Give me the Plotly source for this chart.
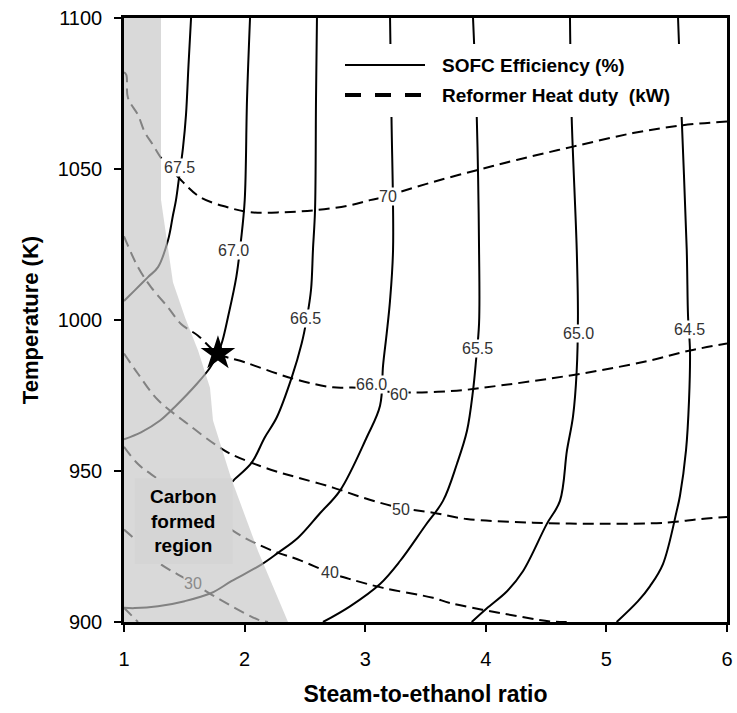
import plotly.graph_objects as go

# ---------------- data ----------------
x_ticks = [1, 2, 3, 4, 5, 6]
y_ticks = [900, 950, 1000, 1050, 1100]

# SOFC efficiency contour lines (%)
eff_675_x = [1.556, 1.535, 1.514, 1.489, 1.456, 1.431, 1.406, 1.365, 1.282, 1.199, 1.089, 1.000]
eff_675_y = [1100, 1084.5, 1067.9, 1057.0, 1047.0, 1039.7, 1034.7, 1026.4, 1017.5, 1014.2, 1009.8, 1006.3]

eff_670_x = [2.045, 2.020, 2.001, 1.970, 1.931, 1.862, 1.817, 1.779, 1.713, 1.605, 1.423, 1.299, 1.141, 1.000]
eff_670_y = [1100, 1072.9, 1039.7, 1026.4, 1014.2, 1000.9, 993.2, 988.9, 984.2, 978.9, 971.3, 966.7, 962.8, 960.5]

eff_665_x = [2.600, 2.592, 2.584, 2.567, 2.551, 2.517, 2.473, 2.391, 2.266, 2.167, 2.059, 1.918, 1.900]
eff_665_y = [1100, 1072.9, 1036.4, 1023.4, 1010.1, 1000.8, 992.2, 981.0, 967.7, 961.1, 952.8, 947.3, 946.5]

eff_660_x = [3.206, 3.218, 3.231, 3.206, 3.178, 3.148, 3.123, 3.012, 2.791, 2.625, 2.443, 2.277, 2.138,
             1.890, 1.724, 1.503, 1.282, 1.089, 1.000]
eff_660_y = [1100, 1067.2, 1023.4, 1006.5, 995.5, 984.9, 971.6, 961.1, 943.5, 936.0, 927.9, 922.9, 919.0,
             913.5, 909.6, 906.9, 905.2, 904.6, 904.7]

eff_655_x = [3.894, 3.925, 3.944, 3.944, 3.919, 3.894, 3.844, 3.761, 3.645, 3.496, 3.289, 3.123, 2.874, 2.650]
eff_655_y = [1100, 1067.2, 1023.4, 998.8, 986.6, 976.6, 963.3, 952.4, 940.1, 931.8, 920.2, 912.6, 905.2, 900]

eff_650_x = [4.698, 4.712, 4.754, 4.764, 4.753, 4.723, 4.673, 4.615, 4.505, 4.308, 4.176, 4.007, 3.883]
eff_650_y = [1100, 1067.2, 1023.4, 1001.2, 982.6, 968.0, 956.8, 940.1, 932.4, 916.8, 910.2, 904.5, 900]

eff_645_x = [5.594, 5.624, 5.666, 5.677, 5.693, 5.685, 5.660, 5.610, 5.583, 5.469, 5.362, 5.262, 5.085]
eff_645_y = [1100, 1067.2, 1023.4, 1001.2, 989.9, 973.3, 956.8, 941.8, 936.8, 919.2, 911.9, 906.9, 900]

# Reformer heat duty contour lines (kW)
duty_70_x = [1.000, 1.019, 1.033, 1.116, 1.171, 1.240, 1.309, 1.381, 1.456, 1.630, 1.852, 2.045, 2.318,
             2.598, 2.874, 3.040, 3.189, 3.289, 3.562, 3.925, 4.256, 4.723, 5.221, 5.635, 6.000]
duty_70_y = [1082.0, 1081.2, 1073.5, 1067.9, 1062.3, 1058.0, 1053.6, 1050.3, 1047.0, 1040.7, 1037.4, 1035.7,
             1035.7, 1036.4, 1038.0, 1039.7, 1041.0, 1042.4, 1045.7, 1049.6, 1053.0, 1057.4, 1061.9, 1064.5, 1065.7]

duty_60_x = [1.000, 1.116, 1.224, 1.365, 1.473, 1.614, 1.779, 2.001, 2.401, 2.733, 2.930, 3.081, 3.371,
             3.759, 4.118, 4.532, 4.947, 5.362, 5.693, 6.000]
duty_60_y = [1027.7, 1017.5, 1010.9, 1004.2, 998.7, 994.8, 988.9, 986.0, 980.6, 977.7, 977.6, 976.6, 976.0,
             976.6, 978.3, 980.6, 983.3, 986.6, 989.9, 992.2]

duty_50_x = [1.000, 1.116, 1.282, 1.531, 1.752, 1.887, 2.053, 2.250, 2.443, 2.733, 3.012, 3.289, 3.562,
             3.842, 4.391, 4.947, 5.500, 5.776, 6.000]
duty_50_y = [988.9, 982.2, 973.5, 965.5, 958.9, 955.6, 952.8, 950.0, 947.8, 944.5, 940.8, 937.8, 936.2,
             934.1, 932.9, 932.5, 932.9, 934.1, 934.8]

duty_40_x = [1.000, 1.116, 1.226, 1.973, 2.111, 2.277, 2.443, 2.708, 2.874, 3.148, 3.562, 3.703, 4.118, 4.532, 4.671]
duty_40_y = [958.0, 952.3, 948.9, 928.5, 925.7, 922.9, 920.7, 916.3, 914.2, 911.3, 908.0, 906.3, 903.0, 900.2, 900.0]

duty_30_x = [1.000, 1.089, 1.188, 1.309, 1.448, 1.572, 1.724, 1.918, 2.111, 2.194]
duty_30_y = [930.6, 927.4, 922.9, 919.0, 915.7, 912.9, 909.1, 904.7, 900.8, 900.0]

duty_20_x = [1.000, 1.116]
duty_20_y = [904.7, 900.0]

# Carbon formed region boundary
region_x = [1.0, 1.307, 1.307, 1.365, 1.406, 1.506, 1.614, 1.713, 1.738, 1.887, 2.111, 2.360, 1.0]
region_y = [1100, 1100, 1039.7, 1023.4, 1012.5, 1000.8, 989.9, 977.6, 966.7, 947.8, 923.5, 900, 900]

# Text box of the region
box_x = [1.09, 1.90]
box_y = [919.2, 947.6]

# Design point (star)
star_x = [1.779]
star_y = [988.9]

# Contour labels
label_text = ["67.5", "67.0", "66.5", "66.0", "65.5", "65.0", "64.5", "70", "60", "50", "40", "30"]
label_x = [1.464, 1.904, 2.501, 3.050, 3.931, 4.769, 5.685, 3.189, 3.280, 3.297, 2.708, 1.572]
label_y = [1050.6, 1023.1, 1000.5, 978.8, 990.4, 995.4, 997.0, 1041.0, 975.3, 937.3, 916.3, 912.9]

legend_names = ["SOFC Efficiency (%)", "Reformer Heat duty\u00a0 (kW)"]

# ---------------- figure ----------------
FONT = "Liberation Sans, Arial, sans-serif"
fig = go.Figure()

solid = [(eff_675_x, eff_675_y), (eff_670_x, eff_670_y), (eff_665_x, eff_665_y), (eff_660_x, eff_660_y),
         (eff_655_x, eff_655_y), (eff_650_x, eff_650_y), (eff_645_x, eff_645_y)]
dashed = [(duty_70_x, duty_70_y), (duty_60_x, duty_60_y), (duty_50_x, duty_50_y), (duty_40_x, duty_40_y),
          (duty_30_x, duty_30_y), (duty_20_x, duty_20_y)]

for xs, ys in solid:
    fig.add_trace(go.Scatter(x=xs, y=ys, mode="lines", line=dict(color="black", width=2, shape="spline"),
                             showlegend=False, hoverinfo="skip"))
for xs, ys in dashed:
    fig.add_trace(go.Scatter(x=xs, y=ys, mode="lines",
                             line=dict(color="black", width=2, dash="11px,6px", shape="spline"),
                             showlegend=False, hoverinfo="skip"))

# translucent carbon region drawn over the lines (lines appear grey inside)
fig.add_trace(go.Scatter(x=region_x, y=region_y, mode="lines", fill="toself",
                         fillcolor="rgba(197,197,197,0.66)", line=dict(width=0, color="rgba(0,0,0,0)"),
                         showlegend=False, hoverinfo="skip"))

fig.add_trace(go.Scatter(x=star_x, y=star_y, mode="markers",
                         marker=dict(symbol="star", size=26, color="black"),
                         showlegend=False, hoverinfo="skip"))

# region text box
fig.add_shape(type="rect", xref="x", yref="y", x0=box_x[0], x1=box_x[1], y0=box_y[0], y1=box_y[1],
              fillcolor="#d5d5d5", line=dict(width=0), layer="above")
fig.add_annotation(x=(box_x[0] + box_x[1]) / 2, y=(box_y[0] + box_y[1]) / 2, xref="x", yref="y",
                   text="<b>Carbon<br>formed<br>region</b>", showarrow=False,
                   font=dict(family=FONT, size=19, color="black"))

# contour labels
for t, lx, ly in zip(label_text, label_x, label_y):
    grey = (t == "30")
    fig.add_annotation(x=lx, y=ly, xref="x", yref="y", text=t, showarrow=False,
                       font=dict(family=FONT, size=16, color="#8a8a8a" if grey else "#333333"),
                       bgcolor="#d9d9d9" if grey else "white", borderpad=0)

# legend (drawn manually to match the long line samples)
def px_x(p):
    return (p - 124) / 603.0

def px_y(p):
    return (622 - p) / 604.0

fig.add_shape(type="rect", xref="paper", yref="paper", x0=px_x(338), x1=px_x(695), y0=px_y(117), y1=px_y(44),
              fillcolor="white", line=dict(width=0), layer="above")
fig.add_shape(type="line", xref="paper", yref="paper", x0=px_x(345), x1=px_x(425), y0=px_y(65), y1=px_y(65),
              line=dict(color="black", width=2), layer="above")
fig.add_shape(type="line", xref="paper", yref="paper", x0=px_x(345), x1=px_x(425), y0=px_y(95), y1=px_y(95),
              line=dict(color="black", width=4, dash="16px,14px"), layer="above")
for name, py in zip(legend_names, [65, 95]):
    fig.add_annotation(x=px_x(440), y=px_y(py), xref="paper", yref="paper", xanchor="left", yanchor="middle",
                       text="<b>" + name + "</b>", showarrow=False,
                       font=dict(family=FONT, size=19, color="black"))

axis_common = dict(showline=True, linecolor="black", linewidth=2.5, mirror=True, showgrid=False,
                   zeroline=False, ticks="outside", ticklen=7, tickwidth=1.5, tickcolor="black",
                   tickfont=dict(family=FONT, size=20, color="black"), automargin=False)

fig.update_xaxes(range=[1, 6], tickvals=x_ticks, ticktext=[str(v) for v in x_ticks],
                 title=dict(text="<b>Steam-to-ethanol ratio</b>", font=dict(family=FONT, size=23, color="black"),
                            standoff=18),
                 ticklabelstandoff=10, **axis_common)
fig.update_yaxes(range=[900, 1100], tickvals=y_ticks, ticktext=[str(v) for v in y_ticks],
                 title=dict(text="<b>Temperature (K)</b>", font=dict(family=FONT, size=22, color="black"),
                            standoff=14),
                 ticklabelstandoff=8, **axis_common)

fig.update_layout(width=737, height=713, margin=dict(l=124, r=10, t=18, b=91),
                  plot_bgcolor="white", paper_bgcolor="white", showlegend=False)

fig.write_html("out.html")
